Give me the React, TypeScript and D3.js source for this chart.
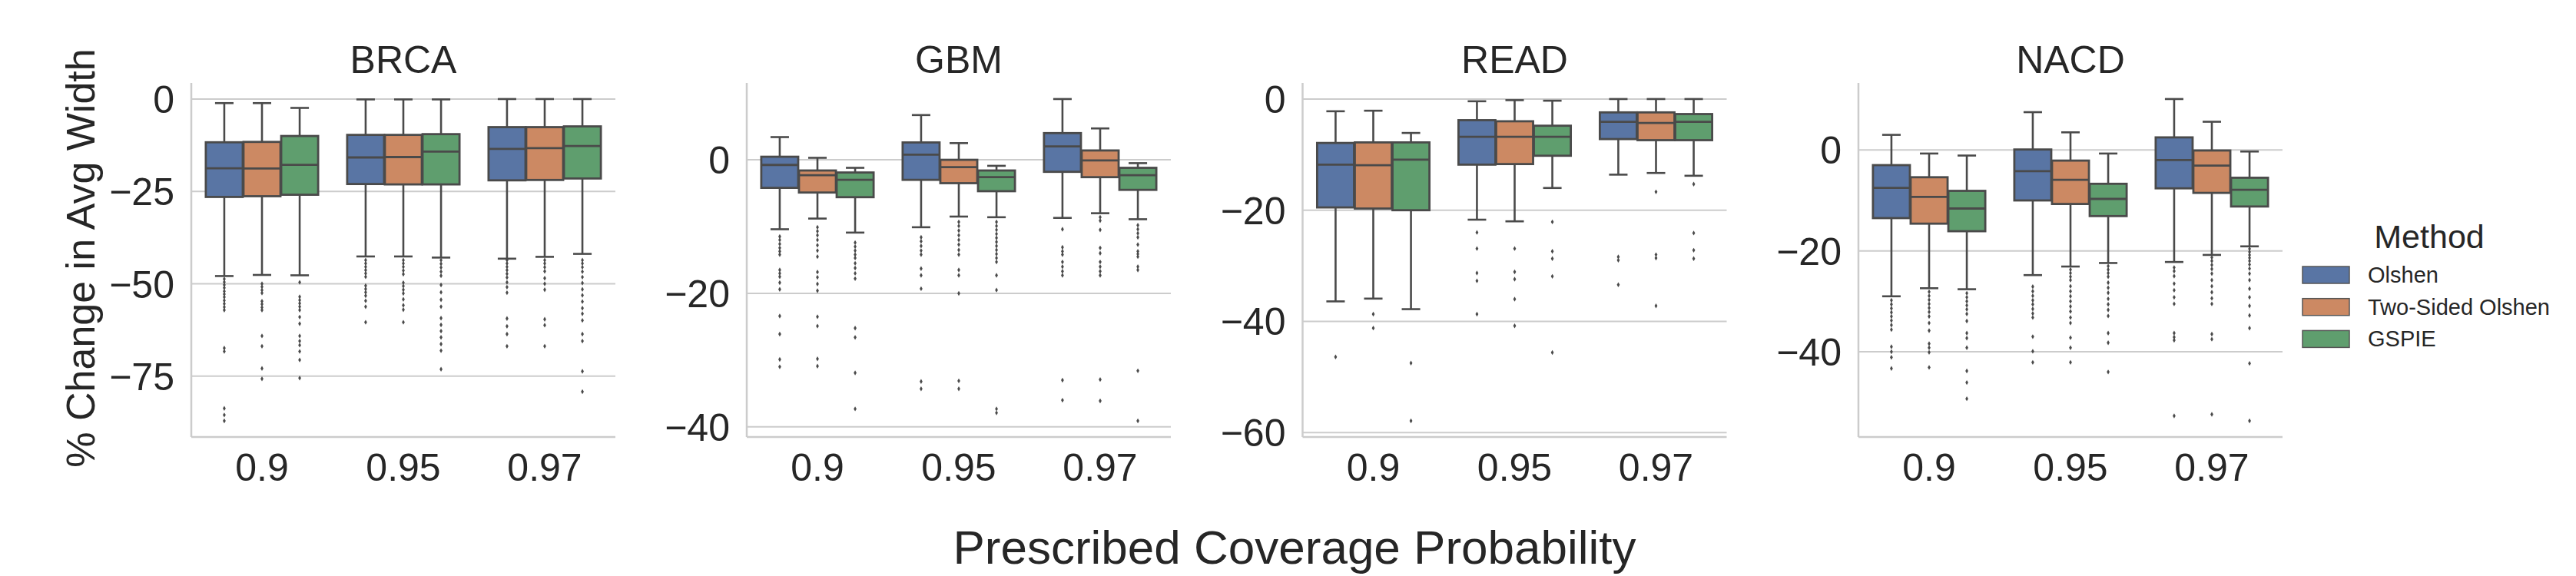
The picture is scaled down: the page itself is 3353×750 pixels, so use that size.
import React from "react";
import { scaleBand, scaleLinear, extent } from "d3";

// categories
const coverages = ["0.9", "0.95", "0.97"];
const methods = ["Olshen", "Two-Sided Olshen", "GSPIE"];
const cancers = ["BRCA", "GBM", "READ", "NACD"];

// box stats per (coverage, method): [whiskerLow, q1, median, q3, whiskerHigh]
const brcaBoxes = [
    [-47.9, -26.5, -18.75, -11.7, -1.1],
    [-47.6, -26.3, -18.8, -11.6, -1.1],
    [-47.7, -25.9, -17.8, -10.0, -2.4],
    [-42.6, -23.0, -15.8, -9.7, -0.1],
    [-42.6, -23.1, -15.7, -9.7, -0.1],
    [-42.9, -23.1, -14.2, -9.5, -0.1],
    [-43.2, -22.0, -13.5, -7.6, 0],
    [-42.7, -21.9, -13.3, -7.6, 0],
    [-41.9, -21.5, -12.7, -7.4, 0]
];
const brcaFliers = [
    [-48.7, -49.5, -50.3, -51.1, -52, -52.8, -53.6, -54.5, -55.4, -56.3, -57.1, -67.4, -68.3, -83.7, -85.5, -87.1],
    [-50, -50.8, -51.7, -52.5, -54.7, -55.5, -56.4, -57.1, -64.1, -66.9, -72.9, -75.7],
    [-49.6, -53.5, -54.4, -55.3, -56.2, -57.1, -59, -60.8, -64.1, -65.5, -66.6, -68.3, -70.6, -75.5],
    [-43.6, -44.5, -45.4, -46.3, -47.2, -48.1, -50.5, -51.4, -52.3, -53.2, -54.6, -56.2, -60.4],
    [-43.6, -44.5, -45.4, -46.4, -47.4, -49.7, -50.6, -51.6, -52.6, -54.2, -55.8, -57, -60.4],
    [-43.6, -44.6, -45.6, -46.7, -47.8, -50.3, -52.3, -54.3, -56.2, -59.3, -61.1, -62.8, -64.5, -66.3, -68.1, -73.1],
    [-43.6, -44.5, -45.4, -46.3, -47.3, -48.3, -49.6, -50.9, -52.4, -59.4, -61.5, -63.6, -66.9],
    [-43.6, -44.5, -45.5, -46.6, -48.5, -50, -51.6, -59.6, -61.2, -66.9],
    [-43.6, -44.5, -45.5, -46.7, -48.2, -49.8, -51.5, -53.1, -54.8, -56.6, -58.1, -59.9, -63.6, -65.5, -73.7, -79.2]
];

const gbmBoxes = [
    [-10.4, -4.2, -0.77, 0.46, 3.4],
    [-8.8, -4.9, -2.3, -1.6, 0.3],
    [-10.9, -5.6, -3.0, -1.9, -1.2],
    [-10.1, -3.0, 0.77, 2.6, 6.7],
    [-8.5, -3.5, -1.1, 0, 2.5],
    [-8.6, -4.7, -2.6, -1.6, -0.9],
    [-8.7, -1.8, 2.0, 4.0, 9.1],
    [-8.0, -2.6, -0.1, 1.4, 4.7],
    [-8.9, -4.5, -2.3, -1.2, -0.5]
];
const gbmFliers = [
    [-11.5, -12, -12.6, -13.2, -13.7, -14.2, -16.5, -17, -17.5, -18.4, -19.4, -23.4, -26.1, -29.9, -31.0],
    [-10.1, -10.7, -11.3, -12, -12.8, -13.6, -14.5, -16.8, -17.6, -18.6, -19.6, -23.5, -24.9, -29.8, -30.9],
    [-12.4, -13, -13.6, -14.2, -14.7, -15.5, -16.2, -17, -17.8, -25.2, -26.6, -31.9, -37.3],
    [-11.6, -12.2, -12.9, -13.6, -14.2, -16.3, -17.3, -19.3, -33.2, -34.3],
    [-9.3, -9.9, -10.6, -11.3, -12, -12.7, -13.5, -14.2, -16.5, -17.3, -20, -33.1, -34.3],
    [-9.3, -9.9, -10.5, -11.1, -11.7, -12.3, -12.9, -13.5, -14.1, -14.7, -15.3, -17.3, -19.5, -37.3, -37.9],
    [-10.4, -13.1, -13.7, -14.2, -15.3, -16.0, -16.7, -17.3, -33, -36],
    [-8.6, -9.1, -10.5, -13.2, -14, -15.3, -16.0, -16.7, -17.3, -32.9, -36.1],
    [-9.8, -10.4, -11, -11.6, -12.7, -13.7, -14.1, -14.5, -16.0, -16.5, -31.6, -39.1]
];

const readBoxes = [
    [-36.4, -19.5, -11.8, -7.9, -2.2],
    [-35.9, -19.7, -11.9, -7.8, -2.1],
    [-37.8, -20, -10.9, -7.8, -6.1],
    [-21.7, -11.8, -6.8, -3.8, -0.4],
    [-22.0, -11.7, -6.8, -4.0, -0.2],
    [-16.0, -10.2, -6.8, -4.8, -0.3],
    [-13.6, -7.2, -4.1, -2.4, 0],
    [-13.3, -7.4, -4.3, -2.4, 0],
    [-13.8, -7.4, -4.1, -2.7, 0]
];
const readFliers = [
    [-46.4],
    [-38.7, -41.2],
    [-47.5, -57.9],
    [-24, -26.9, -31.3, -32.7, -38.7],
    [-26.9, -31.1, -32.4, -36, -40.8],
    [-22.1, -27.4, -28.7, -31.9, -45.6],
    [-28.4, -29.0, -33.4],
    [-16.7, -28.0, -28.6, -37.2],
    [-15.3, -24.1, -27.2, -28.7]
];

const nacdBoxes = [
    [-29.0, -13.5, -7.5, -3.0, 3.0],
    [-27.4, -14.6, -9.3, -5.4, -0.7],
    [-27.6, -16.1, -11.6, -8.1, -1.1],
    [-24.8, -10, -4.2, 0.1, 7.5],
    [-23.1, -10.7, -5.9, -2.1, 3.5],
    [-22.4, -13.1, -9.7, -6.7, -0.7],
    [-22.2, -7.6, -2.0, 2.5, 10.1],
    [-20.8, -8.5, -3.1, -0.1, 5.6],
    [-19.1, -11.2, -7.9, -5.5, -0.3]
];
const nacdFliers = [
    [-29.8, -30.6, -31.4, -32.2, -33, -33.8, -34.7, -35.6, -39, -40, -41.1, -43.3],
    [-28.1, -28.9, -29.7, -30.5, -31.3, -32.1, -33, -34.3, -35.8, -38.4, -39.2, -40.1, -43.1],
    [-28.4, -29.2, -30, -30.8, -31.6, -32.5, -33.9, -36.3, -37.3, -39.2, -43.8, -46.1, -49.3],
    [-27.1, -28, -28.9, -29.8, -30.6, -31.5, -32.4, -33.2, -37, -39.9, -42.1],
    [-23.7, -24.4, -25.1, -25.8, -27, -28, -29, -30, -31, -32, -33.2, -34.3, -37.2, -39.2, -42.1],
    [-23, -23.7, -24.4, -25.1, -26.3, -27.3, -28.3, -29.5, -30.6, -31.7, -32.9, -36.3, -38.2, -44.0],
    [-23.3, -24, -25, -26.5, -27.8, -29.2, -30.5, -36.3, -37.1, -37.7, -52.7],
    [-21.3, -22, -22.8, -23.6, -24.5, -25.8, -27, -28.2, -29.4, -30.5, -36.5, -37.5, -52.4],
    [-19.6, -20.2, -20.8, -21.4, -22, -22.7, -23.5, -24.5, -25.8, -27.5, -29.2, -30.9, -32.8, -35.3, -42.3, -53.7]
];

// y tick labels per panel
const brcaTicks = [0, -25, -50, -75];
const gbmTicks = [0, -20, -40];
const readTicks = [0, -20, -40, -60];
const nacdTicks = [0, -20, -40];

const allBoxes = [brcaBoxes, gbmBoxes, readBoxes, nacdBoxes];
const allFliers = [brcaFliers, gbmFliers, readFliers, nacdFliers];
const allTicks = [brcaTicks, gbmTicks, readTicks, nacdTicks];

const colors = ["#5975a4", "#cc8963", "#5f9e6e"];
const edge = "#4a4a4a";
const gridColor = "#cccccc";
const textColor = "#262626";
const font = "'Liberation Sans', Arial, sans-serif";

const W = 3353;
const H = 750;
const panelLefts = [249, 972, 1695.5, 2419];
const panelW = 552;
const top = 108;
const bottom = 569;

const diamond = "M0,-3.2L1.9,0L0,3.2L-1.9,0Z";

const Panel = ({ idx }: { idx: number }) => {
    const left = panelLefts[idx];
    const boxes = allBoxes[idx];
    const fliers = allFliers[idx];
    const vals = boxes.flat().concat(fliers.flat());
    const ext: any = extent(vals);
    const pad = (ext[1] - ext[0]) * 0.05;
    const y = scaleLinear().domain([ext[0] - pad, ext[1] + pad]).range([bottom, top]);
    const x0 = scaleBand().domain(coverages).range([left, left + panelW]).padding(0);
    const bw = x0.bandwidth();
    const x1 = scaleBand().domain(methods).range([0.1 * bw, 0.9 * bw]).padding(0);
    const hw = x1.bandwidth();
    const boxW = hw * 0.98;

    return (
        <g>
            {allTicks[idx].map((t) => (
                <g key={t}>
                    <line x1={left} x2={left + panelW} y1={y(t)} y2={y(t)} stroke={gridColor} strokeWidth={2} />
                    <text x={left - 22} y={y(t)} dy="0.36em" textAnchor="end" fontSize={50} fill={textColor}>
                        {t < 0 ? "\u2212" + Math.abs(t) : t}
                    </text>
                </g>
            ))}
            <line x1={left} x2={left} y1={top} y2={bottom} stroke={gridColor} strokeWidth={2.5} />
            <line x1={left} x2={left + panelW} y1={bottom} y2={bottom} stroke={gridColor} strokeWidth={2.5} />
            <text x={left + panelW / 2} y={95} textAnchor="middle" fontSize={50} fill={textColor}>
                {cancers[idx]}
            </text>
            {coverages.map((c) => (
                <text key={c} x={(x0(c) as number) + bw / 2} y={626} textAnchor="middle" fontSize={50} fill={textColor}>
                    {c}
                </text>
            ))}
            {coverages.map((c, ci) =>
                methods.map((m, mi) => {
                    const s = boxes[ci * 3 + mi];
                    const cx = (x0(c) as number) + (x1(m) as number) + hw / 2;
                    const fl = fliers[ci * 3 + mi];
                    return (
                        <g key={c + m}>
                            <line x1={cx} x2={cx} y1={y(s[0])} y2={y(s[1])} stroke={edge} strokeWidth={2.6} />
                            <line x1={cx} x2={cx} y1={y(s[3])} y2={y(s[4])} stroke={edge} strokeWidth={2.6} />
                            <line x1={cx - boxW / 4} x2={cx + boxW / 4} y1={y(s[0])} y2={y(s[0])} stroke={edge} strokeWidth={2.6} />
                            <line x1={cx - boxW / 4} x2={cx + boxW / 4} y1={y(s[4])} y2={y(s[4])} stroke={edge} strokeWidth={2.6} />
                            <rect
                                x={cx - boxW / 2}
                                y={y(s[3])}
                                width={boxW}
                                height={y(s[1]) - y(s[3])}
                                fill={colors[mi]}
                                stroke={edge}
                                strokeWidth={2.8}
                            />
                            <line x1={cx - boxW / 2} x2={cx + boxW / 2} y1={y(s[2])} y2={y(s[2])} stroke={edge} strokeWidth={2.8} />
                            {fl.map((v, i) => (
                                <path key={i} d={diamond} transform={`translate(${cx},${y(v)})`} fill={edge} />
                            ))}
                        </g>
                    );
                })
            )}
        </g>
    );
};

export default function App() {
    return (
        <div style={{ position: "absolute", left: 0, top: 0 }}>
            <svg width={W} height={H} style={{ display: "block", background: "#fff" }} fontFamily={font}>
                <rect width={W} height={H} fill="#fff" />
                {cancers.map((c, i) => (
                    <Panel key={c} idx={i} />
                ))}
                <text transform="translate(123,336) rotate(-90)" textAnchor="middle" fontSize={52} fill={textColor}>
                    % Change in Avg Width
                </text>
                <text x={1685} y={734} textAnchor="middle" fontSize={62} fill={textColor}>
                    Prescribed Coverage Probability
                </text>
                <text x={3162} y={323} textAnchor="middle" fontSize={43} fill={textColor}>
                    Method
                </text>
                {methods.map((m, i) => (
                    <g key={m}>
                        <rect x={2997} y={347 + i * 41.7} width={61} height={22} fill={colors[i]} stroke="#555" strokeWidth={1.5} />
                        <text x={3082} y={368 + i * 41.7} fontSize={29} fill={textColor}>
                            {m}
                        </text>
                    </g>
                ))}
            </svg>
        </div>
    );
}
